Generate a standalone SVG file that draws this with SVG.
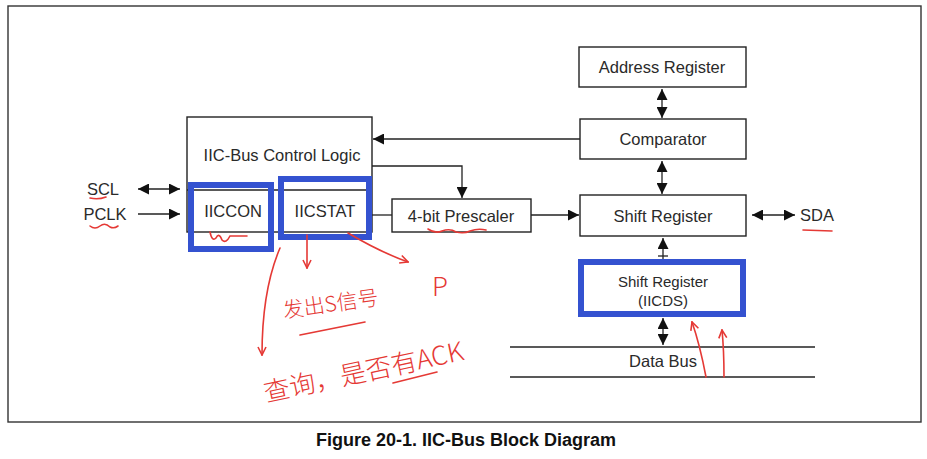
<svg xmlns="http://www.w3.org/2000/svg" width="927" height="459" viewBox="0 0 927 459">
<defs>
<marker id="ah" viewBox="0 0 10 10" refX="10" refY="5" markerWidth="12" markerHeight="11" markerUnits="userSpaceOnUse" orient="auto-start-reverse">
<path d="M0,0 L10,5 L0,10 z" fill="#111"/>
</marker>
<marker id="rh" viewBox="0 0 10 10" refX="9" refY="5" markerWidth="10" markerHeight="10" markerUnits="userSpaceOnUse" orient="auto">
<path d="M1,1 L9,5 L1,9" fill="none" stroke="#e53935" stroke-width="1.6"/>
</marker>
<style>
.box{fill:#fff;stroke:#222;stroke-width:1.4}
.lbl{font-family:"Liberation Sans",Arial,sans-serif;font-size:16.5px;fill:#2a2a2a;text-anchor:middle;dominant-baseline:central}
.conn{stroke:#222;stroke-width:1.3;fill:none}
.blue{fill:none;stroke:#3452d0;stroke-width:6}
.red{stroke:#e53935;stroke-width:1.6;fill:none;stroke-linecap:round}
.hand{font-family:"Noto Sans CJK SC","Liberation Sans",sans-serif;fill:#e53935;font-weight:300}
</style>
</defs>
<rect width="927" height="459" fill="#fff"/>
<rect x="8" y="6" width="913" height="416" fill="none" stroke="#333" stroke-width="1.4"/>

<g id="control-logic">
<rect class="box" x="187" y="117" width="185" height="115"/>
<line class="conn" x1="187" y1="190" x2="372" y2="190"/>
<text class="lbl" x="282" y="155">IIC-Bus Control Logic</text>
</g>
<g id="iiccon">
<text class="lbl" x="233" y="211">IICCON</text>
<rect class="blue" x="191" y="185" width="80" height="64"/>
</g>
<g id="iicstat">
<text class="lbl" x="325" y="211">IICSTAT</text>
<rect class="blue" x="281" y="179" width="88" height="58"/>
</g>
<g id="prescaler">
<rect class="box" x="392" y="199" width="139" height="33"/>
<text class="lbl" x="461" y="216">4-bit Prescaler</text>
</g>
<g id="address-register">
<rect class="box" x="579" y="47" width="167" height="40"/>
<text class="lbl" x="662" y="67">Address Register</text>
</g>
<g id="comparator">
<rect class="box" x="580" y="119" width="166" height="40"/>
<text class="lbl" x="663" y="139">Comparator</text>
</g>
<g id="shift-register">
<rect class="box" x="580" y="195" width="166" height="41"/>
<text class="lbl" x="663" y="216">Shift Register</text>
</g>
<g id="iicds">
<rect class="box" x="582" y="264" width="162" height="48"/>
<text class="lbl" x="663" y="281" style="font-size:15px">Shift Register</text>
<text class="lbl" x="663" y="300" style="font-size:15px">(IICDS)</text>
</g>
<g id="data-bus">
<line class="conn" x1="510" y1="347" x2="815" y2="347"/>
<line class="conn" x1="510" y1="377" x2="815" y2="377"/>
<text class="lbl" x="663" y="361">Data Bus</text>
</g>
<g id="signals">
<text class="lbl" x="103" y="189">SCL</text>
<text class="lbl" x="105" y="214">PCLK</text>
<text class="lbl" x="817" y="215">SDA</text>
</g>

<g id="connectors">
<line class="conn" x1="138" y1="189" x2="180" y2="189" marker-start="url(#ah)" marker-end="url(#ah)"/>
<line class="conn" x1="138" y1="214" x2="180" y2="214" marker-end="url(#ah)"/>
<line class="conn" x1="580" y1="139" x2="373" y2="139" marker-end="url(#ah)" stroke="#666"/>
<polyline class="conn" points="372,166 462,166 462,198" marker-end="url(#ah)"/>
<line class="conn" x1="372" y1="215" x2="392" y2="215"/>
<line class="conn" x1="531" y1="215" x2="579" y2="215" marker-end="url(#ah)"/>
<line class="conn" x1="752" y1="215" x2="795" y2="215" marker-start="url(#ah)" marker-end="url(#ah)"/>
<line class="conn" x1="662" y1="89" x2="662" y2="118" marker-start="url(#ah)" marker-end="url(#ah)" stroke-width="1.8"/>
<line class="conn" x1="662" y1="161" x2="662" y2="194" marker-start="url(#ah)" marker-end="url(#ah)" stroke-width="1.8"/>
<line class="conn" x1="663" y1="238" x2="663" y2="262" marker-start="url(#ah)" stroke-width="1.8"/>
<line class="conn" x1="658" y1="256" x2="668" y2="256" stroke-width="1.5"/>
<line class="conn" x1="663" y1="318" x2="663" y2="345" marker-start="url(#ah)" marker-end="url(#ah)" stroke-width="1.8"/>
</g>

<g id="highlights">
<rect class="blue" x="581" y="262" width="162" height="52"/>
</g>

<g id="annotations">
<path class="red" d="M90,198 Q98,200 106,197"/>
<path class="red" d="M90,226 Q95,230 100,226 Q105,222 110,227 Q114,229 118,226"/>
<path class="red" d="M803,230 L832,231"/>
<path class="red" d="M210,232 Q212,242 216,238 Q219,232 222,240 Q226,244 230,236 Q236,236 247,236"/>
<path class="red" d="M428,229 Q435,234 442,231 Q450,228 456,232 Q464,234 470,231 Q478,228 486,230"/>
<path class="red" d="M280,248 Q262,290 262,355" marker-end="url(#rh)"/>
<path class="red" d="M307,235 L307,268" marker-end="url(#rh)"/>
<path class="red" d="M348,233 Q380,252 408,262" marker-end="url(#rh)"/>
<path class="red" d="M300,335 L365,322"/>
<path class="red" d="M393,383 L437,372"/>
<path class="red" d="M706,377 Q700,345 692,322" marker-end="url(#rh)"/>
<path class="red" d="M724,377 Q724,350 722,330" marker-end="url(#rh)"/>
<text class="hand" x="284" y="318" font-size="21" transform="rotate(-8 284 318)">发出S信号</text>
<text class="hand" x="432" y="296" font-size="26">P</text>
<text class="hand" x="266" y="402" font-size="26" transform="rotate(-12 266 402)">查询，是否有ACK</text>
</g>

<text x="466" y="446" style="font-family:'Liberation Sans',Arial,sans-serif;font-size:18px;font-weight:bold;fill:#111;text-anchor:middle">Figure 20-1. IIC-Bus Block Diagram</text>
</svg>
